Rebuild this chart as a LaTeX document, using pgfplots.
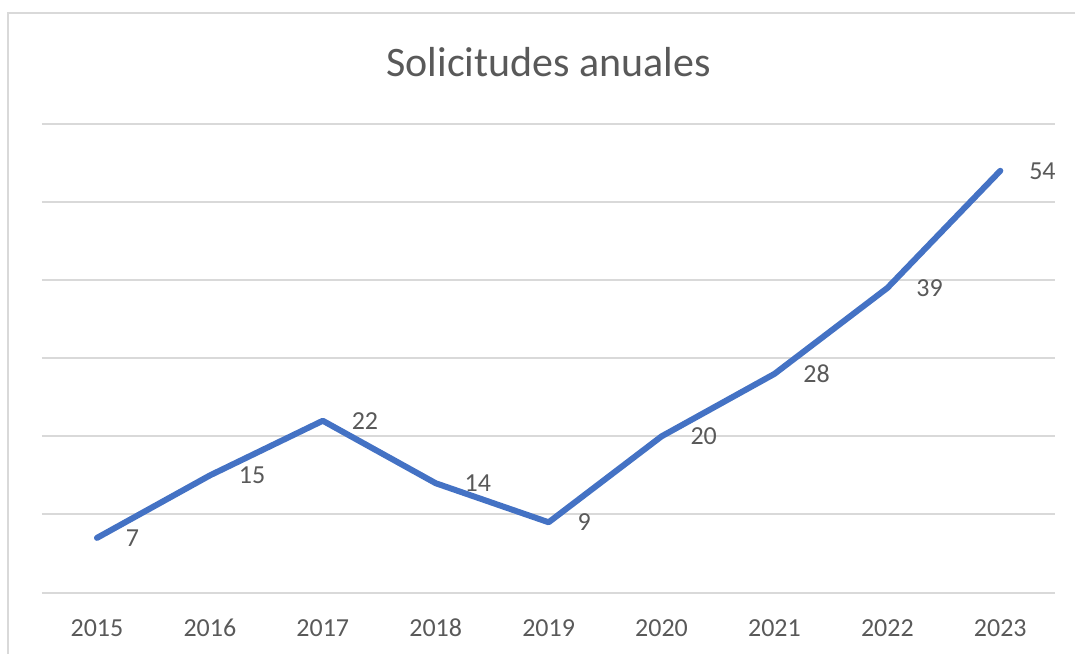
\documentclass[border=0pt]{standalone}
\usepackage{pgfplots}
\pgfplotsset{compat=1.18}
\usepackage{fontspec}
\setmainfont{Carlito}
\definecolor{txtc}{HTML}{595959}
\definecolor{gridc}{HTML}{D9D9D9}
\definecolor{linec}{HTML}{4472C4}
\begin{document}
\begin{tikzpicture}
\begin{axis}[
  scale only axis,
  width=507pt, height=234.5pt,
  xmin=-0.487, xmax=8.487,
  ymin=0, ymax=60,
  ytick={0,10,...,60},
  yticklabels={},
  ymajorgrids, xmajorgrids=false,
  y grid style={color=gridc, line width=1pt},
  axis line style={draw=none},
  major tick length=0pt,
  xtick={0,...,8},
  xticklabels={2015,2016,2017,2018,2019,2020,2021,2022,2023},
  xticklabel style={font=\fontsize{13}{15}\selectfont, text=txtc, anchor=base, yshift=-22pt},
  title={Solicitudes anuales},
  title style={font=\fontsize{21}{24}\selectfont, text=txtc, at={(0.5,1)}, anchor=center, yshift=25pt},
  /pgf/number format/assume math mode=true,
  nodes near coords,
  every node near coord/.append style={font=\fontsize{13}{15}\selectfont, text=txtc, anchor=west, inner sep=0pt, xshift=13pt},
  clip=false,
]
\addplot[linec, line width=3pt, line cap=round, line join=round, mark=none] coordinates {
(0,7) (1,15) (2,22) (3,14) (4,9) (5,20) (6,28) (7,39) (8,54)
};
\end{axis}
\pgfresetboundingbox
\path (-21pt,-30.5pt) rectangle (517pt,296.5pt);
\draw[gridc, line width=0.75pt] (-17pt,-30.5pt) -- (-17pt,290pt) -- (517pt,290pt);
\end{tikzpicture}
\end{document}
